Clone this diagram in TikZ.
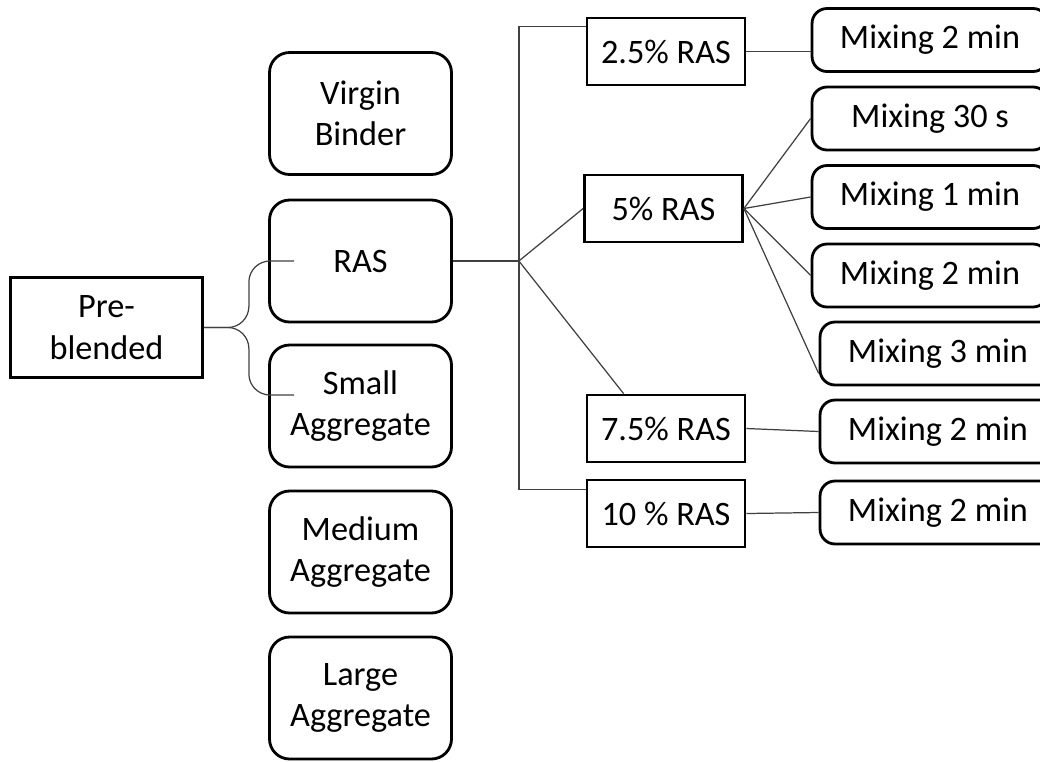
\documentclass[tikz,border=0pt]{standalone}
\usepackage{fontspec}
\setmainfont{Carlito}
\usetikzlibrary{calc}

\begin{document}
\begin{tikzpicture}[x=0.02cm,y=-0.02cm,
  every node/.style={font=\fontsize{19.5}{23.5}\selectfont,align=center,inner sep=0pt},
  sqbox/.style={draw,line width=1.6pt},
  item/.style={sqbox,rounded corners=0.4cm,minimum width=3.64cm,minimum height=2.44cm},
  rasbox/.style={sqbox,minimum width=3.16cm,minimum height=1.34cm},
  mixbox/.style={sqbox,rounded corners=0.3cm,minimum width=4.72cm,minimum height=1.26cm},
  conn/.style={draw=black!75,line width=0.7pt}]
\useasboundingbox (0,0) rectangle (1040,761);
\clip (0,0) rectangle (1040,761);

\node[sqbox,minimum width=3.84cm,minimum height=2cm] (pre) at (106.5,327.5) {Pre-\\blended};
\node[item] (vb) at (360.5,113.5) {Virgin\\Binder};
\node[item] (ras) at (360.5,261) {RAS};
\node[item] (small) at (360.5,406) {Small\\Aggregate};
\node[item] (medium) at (360.5,552) {Medium\\Aggregate};
\node[item] (large) at (360.5,698) {Large\\Aggregate};

\node[rasbox] (r25) at (666,51.5) {2.5\% RAS};
\node[rasbox] (r5) at (663.5,208.5) {5\% RAS};
\node[rasbox] (r75) at (666,428.5) {7.5\% RAS};
\node[rasbox] (r10) at (666,513.5) {10 \% RAS};

\node[mixbox] (m25) at (930,40) {Mixing 2 min};
\node[mixbox] (m30s) at (930,118.5) {Mixing 30 s};
\node[mixbox] (m1) at (930,197) {Mixing 1 min};
\node[mixbox] (m2) at (930,275.5) {Mixing 2 min};
\node[mixbox] (m3) at (938,353.5) {Mixing 3 min};
\node[mixbox] (m75) at (938,431.5) {Mixing 2 min};
\node[mixbox] (m10) at (938,512.5) {Mixing 2 min};

\coordinate (hub) at ($(ras.east)+(66,0)$);
\coordinate (top) at ([yshift=-0.2cm]r25.north west);
\coordinate (bot) at ([yshift=-0.22cm]r10.north west);
\draw[conn] (top) -| (hub) |- (bot);
\draw[conn] (ras.east) -- (hub);
\draw[conn] (hub) -- (r5.west);
\draw[conn] (hub) -- ([xshift=0.76cm]r75.north west);

\draw[conn] (r25.east) -- (m25.west |- r25.east);
\foreach \m in {m30s,m1,m2}
  \draw[conn] (r5.east) -- (\m.west);
\draw[conn] (r5.east) -- ([yshift=0.26cm]m3.south west);
\draw[conn] (r75.east) -- (m75.west);
\draw[conn] (r10.east) -- (m10.west);

\coordinate (bt) at ([xshift=0.52cm]ras.west);
\coordinate (bb) at ([xshift=0.52cm,yshift=0.22cm]small.west);
\path (pre.east) ++(45,0) coordinate (tip);
\draw[conn,rounded corners=12] (bt) -| (tip) -- (pre.east);
\draw[conn,rounded corners=12] (bb) -| (tip) -- (pre.east);
\end{tikzpicture}
\end{document}
